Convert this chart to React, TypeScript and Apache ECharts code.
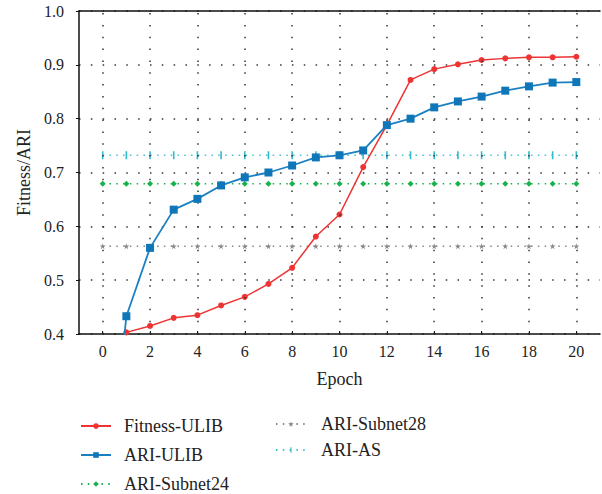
import React, { useEffect, useRef } from "react";
import * as echarts from "echarts";

const epochs = [0, 1, 2, 3, 4, 5, 6, 7, 8, 9, 10, 11, 12, 13, 14, 15, 16, 17, 18, 19, 20];
const fitnessULIB = [0, 0.403, 0.415, 0.43, 0.435, 0.453, 0.469, 0.493, 0.523, 0.581, 0.622, 0.71, 0.788, 0.872, 0.892, 0.901, 0.909, 0.912, 0.914, 0.914, 0.915];
const ariULIB = [0, 0.433, 0.56, 0.631, 0.651, 0.676, 0.691, 0.7, 0.713, 0.728, 0.732, 0.741, 0.788, 0.8, 0.821, 0.832, 0.841, 0.852, 0.86, 0.867, 0.868];
const ariSubnet24 = [0.679, 0.679, 0.679, 0.679, 0.679, 0.679, 0.679, 0.679, 0.679, 0.679, 0.679, 0.679, 0.679, 0.679, 0.679, 0.679, 0.679, 0.679, 0.679, 0.679, 0.679];
const ariSubnet28 = [0.563, 0.563, 0.563, 0.563, 0.563, 0.563, 0.563, 0.563, 0.563, 0.563, 0.563, 0.563, 0.563, 0.563, 0.563, 0.563, 0.563, 0.563, 0.563, 0.563, 0.563];
const ariAS = [0.732, 0.732, 0.732, 0.732, 0.732, 0.732, 0.732, 0.732, 0.732, 0.732, 0.732, 0.732, 0.732, 0.732, 0.732, 0.732, 0.732, 0.732, 0.732, 0.732, 0.732];
const xTicks = [0, 2, 4, 6, 8, 10, 12, 14, 16, 18, 20];
const seriesNames = ["Fitness-ULIB", "ARI-ULIB", "ARI-Subnet24", "ARI-Subnet28", "ARI-AS"];

const FONT = "Liberation Serif";
const STAR = "path://M50,0 L61,35 L98,35 L68,57 L79,91 L50,70 L21,91 L32,57 L2,35 L39,35 Z";
// thin vertical bar inside a square bounding box
const BAR = "path://M0,0 L0.01,0 L0.01,0.01 Z M9.99,9.99 L10,9.99 L10,10 Z M4,0 L6,0 L6,10 L4,10 Z";

const pairs = (vals: number[]) => vals.map((v, i) => [epochs[i], v]);

export default function App() {
  const ref = useRef<HTMLDivElement>(null);
  useEffect(() => {
    if (!ref.current) return;
    const chart = echarts.init(ref.current, null, { renderer: "svg" });
    const dots = () => ({ color: "#333", width: 1.5, opacity: 1, type: [1.5, 10.33] as any });
    chart.setOption({
      animation: false,
      backgroundColor: "#fff",
      textStyle: { fontFamily: FONT },
      grid: { left: 79, right: 2, top: 11, bottom: 160 },
      legend: [
        {
          orient: "vertical",
          left: 80,
          top: 417,
          padding: 0,
          itemWidth: 30,
          itemHeight: 7,
          itemGap: 11,
          data: seriesNames.slice(0, 3),
          textStyle: { fontSize: 18, fontFamily: FONT, color: "#222", padding: [0, 0, 0, 8] },
        },
        {
          orient: "vertical",
          left: 275,
          top: 415,
          padding: 0,
          itemWidth: 30,
          itemHeight: 7,
          itemGap: 8,
          data: seriesNames.slice(3),
          textStyle: { fontSize: 18, fontFamily: FONT, color: "#222", padding: [0, 0, 0, 10] },
        },
      ],
      xAxis: [
        {
          type: "value",
          min: -1,
          max: 21,
          interval: 1,
          name: "Epoch",
          nameLocation: "middle",
          nameGap: 36,
          nameTextStyle: { fontSize: 18, fontFamily: FONT, color: "#222" },
          axisLine: { show: true, onZero: false, lineStyle: { color: "#111", width: 1.5 } },
          axisTick: { show: true, inside: true, length: 3, customValues: xTicks, lineStyle: { color: "#111" } },
          axisLabel: { customValues: xTicks, fontSize: 16, fontFamily: FONT, color: "#222", margin: 9 },
          splitLine: { show: false },
        },
        {
          type: "value",
          position: "top",
          min: -1,
          max: 21,
          axisLine: { show: true, onZero: false, lineStyle: { color: "#111", width: 1.5 } },
          axisTick: { show: false },
          axisLabel: { show: false },
          splitLine: { show: false },
        },
      ],
      yAxis: {
        type: "value",
        min: 0.4,
        max: 1.0,
        interval: 0.1,
        name: "Fitness/ARI",
        nameLocation: "middle",
        nameGap: 46,
        nameTextStyle: { fontSize: 18, fontFamily: FONT, color: "#222" },
        axisLine: { show: true, onZero: false, lineStyle: { color: "#111", width: 1.5 } },
        axisTick: { show: true, inside: false, length: 3, lineStyle: { color: "#111" } },
        axisLabel: {
          fontSize: 16,
          fontFamily: FONT,
          color: "#222",
          margin: 15,
          formatter: (v: number) => v.toFixed(1),
        },
        splitLine: { show: true, lineStyle: dots() },
      },
      series: [
        {
          name: "grid-x",
          type: "line",
          data: [],
          silent: true,
          z: 1,
          markLine: {
            silent: true,
            symbol: ["none", "none"],
            label: { show: false },
            emphasis: { disabled: true },
            lineStyle: dots(),
            data: xTicks.map((v) => ({ xAxis: v })),
          },
        },
        {
          name: "Fitness-ULIB",
          type: "line",
          data: pairs(fitnessULIB),
          clip: true,
          z: 4,
          symbol: "circle",
          symbolSize: 6,
          color: "#ee3333",
          lineStyle: { color: "#ee3333", width: 1.5 },
          itemStyle: { color: "#ee3333" },
        },
        {
          name: "ARI-ULIB",
          type: "line",
          data: pairs(ariULIB),
          clip: true,
          z: 5,
          symbol: "rect",
          symbolSize: 8,
          color: "#1479bb",
          lineStyle: { color: "#1a80c2", width: 1.8 },
          itemStyle: { color: "#0f76b8" },
        },
        {
          name: "ARI-Subnet24",
          type: "line",
          data: pairs(ariSubnet24),
          z: 3,
          symbol: "diamond",
          symbolSize: 6,
          color: "#17b24c",
          lineStyle: { color: "#17b24c", width: 1.5, type: [1.5, 5.3] },
          itemStyle: { color: "#17b24c" },
        },
        {
          name: "ARI-Subnet28",
          type: "line",
          data: pairs(ariSubnet28),
          z: 3,
          symbol: STAR,
          symbolSize: 6,
          color: "#888888",
          lineStyle: { color: "#888888", width: 1.5, type: [1.5, 5.3] },
          itemStyle: { color: "#888888" },
        },
        {
          name: "ARI-AS",
          type: "line",
          data: pairs(ariAS),
          z: 3,
          symbol: BAR,
          symbolSize: 8,
          color: "#40c4d0",
          lineStyle: { color: "#40c4d0", width: 1.5, type: [1.5, 5.3] },
          itemStyle: { color: "#30bccb" },
        },
      ],
    });
    return () => chart.dispose();
  }, []);
  return <div ref={ref} style={{ width: 602, height: 494, position: "absolute", left: 0, top: 0 }} />;
}
